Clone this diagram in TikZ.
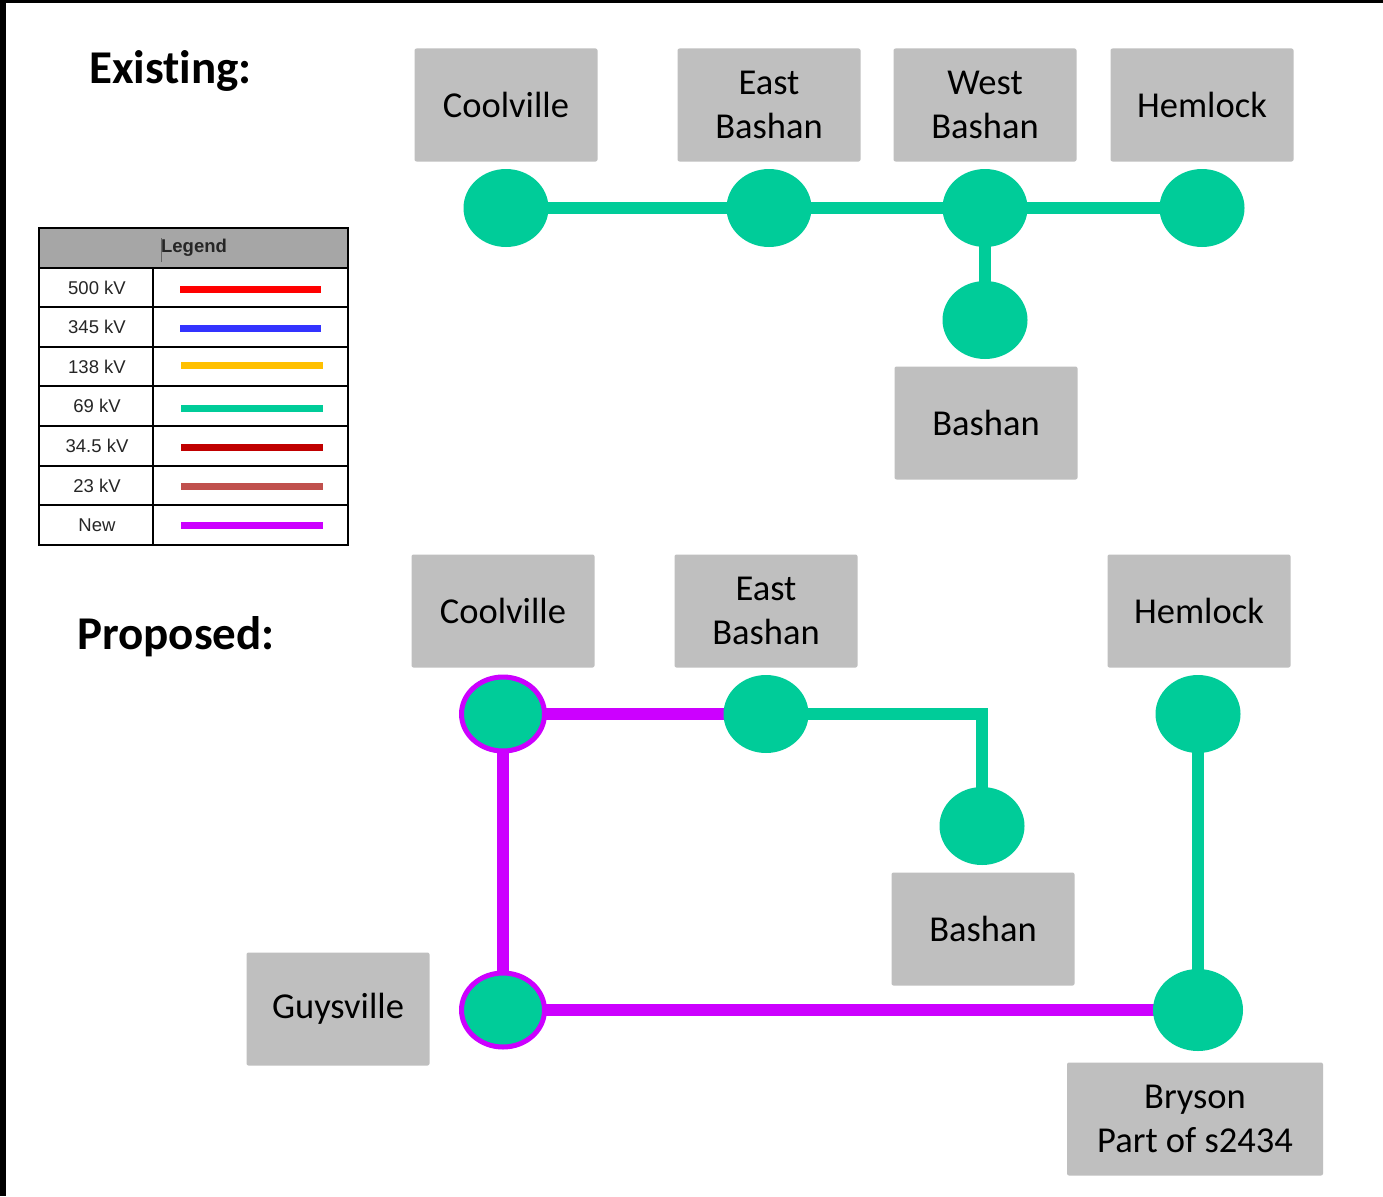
\documentclass[tikz,border=0pt]{standalone}
\usepackage{fontspec}
\setmainfont{Carlito}[Ligatures={NoCommon}]
\newfontfamily\legendfont{Liberation Sans}
\usetikzlibrary{shapes.geometric,backgrounds}

\definecolor{busgreen}{HTML}{00CC99}
\definecolor{newline}{HTML}{CC00FF}
\definecolor{boxgray}{HTML}{BFBFBF}
\definecolor{headgray}{HTML}{A6A6A6}
\definecolor{kvred}{HTML}{FF0000}
\definecolor{kvblue}{HTML}{3333FF}
\definecolor{kvyellow}{HTML}{FFC000}
\definecolor{kvdark}{HTML}{C00000}
\definecolor{kvbrick}{HTML}{C0504D}

\tikzset{
  station/.style={fill=boxgray, rounded corners=2pt, minimum width=183pt,
    minimum height=113pt, inner sep=0pt, align=center,
    font=\fontsize{36.5}{44}\selectfont},
  bus/.style={ellipse, fill=busgreen, minimum width=85pt, minimum height=78pt, inner sep=0pt},
  newbus/.style={ellipse, fill=busgreen, draw=newline, line width=5pt,
    minimum width=83pt, minimum height=74pt, inner sep=0pt},
  line69/.style={busgreen, line width=12pt},
  linenew/.style={newline, line width=12pt},
  heading/.style={font=\fontsize{47}{55}\selectfont\bfseries, inner sep=0pt},
  legtext/.style={font=\legendfont\fontsize{18.5}{22}\selectfont, inner sep=0pt, text=black!85},
  legsample/.style={line width=7pt}
}

\begin{document}
\begin{tikzpicture}[x=1pt, y=-1pt]
\useasboundingbox (0,0) rectangle (1383,1196);
\begin{pgfonlayer}{background}
  \fill[white] (0,0) rectangle (1383,1196);
\end{pgfonlayer}

% frame edges
\fill[black] (0,0) rectangle (1383,3);
\fill[black] (0,0) rectangle (6,1196);

% headings
\node[heading, anchor=west] (hexist) at (89,71) {Existing:};
\node[heading, anchor=west] (hprop) at (77,637) {Proposed:};

% ---------------- existing system ----------------
\node[station] (ecool) at (506,105) {Coolville};
\node[station] (eeast) at (769,105) {East\\Bashan};
\node[station] (ewest) at (985,105) {West\\Bashan};
\node[station] (ehem)  at (1202,105) {Hemlock};
\node[station] (ebash) at (986,423) {Bashan};

\node[bus] (becool) at (506,208) {};
\node[bus] (beeast) at (769,208) {};
\node[bus] (bewest) at (985,208) {};
\node[bus] (behem)  at (1202,208) {};
\node[bus] (bebash) at (985,320) {};

\begin{pgfonlayer}{background}
  \draw[line69] (becool.center) -- (behem.center);
  \draw[line69] (bewest.center) -- (bebash.center);
\end{pgfonlayer}

% ---------------- legend ----------------
\fill[headgray] (39,228) rectangle (348,268);
\draw[line width=2pt] (39,228) rectangle (348,545);
\foreach \yy in {268,307,347,386,426,466,505} {
  \draw[line width=2pt] (39,\yy) -- (348,\yy);
}
\draw[line width=2pt] (153,268) -- (153,545);
\draw[black!60, line width=0.8pt] (161,238) -- (161,262);
\node[legtext, font=\legendfont\bfseries\fontsize{18.5}{22}\selectfont] (lhead) at (194,248) {Legend};

\node[legtext] (l500) at (97,288) {500 kV};
\node[legtext] (l345) at (97,327) {345 kV};
\node[legtext] (l138) at (97,367) {138 kV};
\node[legtext] (l69)  at (97,406) {69 kV};
\node[legtext] (l345b) at (97,446) {34.5 kV};
\node[legtext] (l23)  at (97,486) {23 kV};
\node[legtext] (lnew) at (97,525) {New};

\draw[legsample, kvred]    (180,289) -- (321,289);
\draw[legsample, kvblue]   (180,328) -- (321,328);
\draw[legsample, kvyellow] (181,365) -- (323,365);
\draw[legsample, busgreen] (181,408) -- (323,408);
\draw[legsample, kvdark]   (181,447) -- (323,447);
\draw[legsample, kvbrick]  (181,486) -- (323,486);
\draw[legsample, newline]  (181,525) -- (323,525);

% ---------------- proposed system ----------------
\node[station] (pcool) at (503,611) {Coolville};
\node[station] (peast) at (766,611) {East\\Bashan};
\node[station] (phem)  at (1199,611) {Hemlock};
\node[station] (pbash) at (983,929) {Bashan};
\node[station] (pguy)  at (338,1009) {Guysville};
\node[station, minimum width=256pt] (pbry) at (1195,1119) {Bryson\\Part of s2434};

\node[newbus] (bpcool) at (503,714) {};
\node[bus]    (bpeast) at (766,714) {};
\node[bus]    (bphem)  at (1198,714) {};
\node[bus]    (bpbash) at (982,826) {};
\node[newbus] (bpguy)  at (503,1010) {};
\node[bus, minimum width=90pt, minimum height=82pt] (bpbry) at (1198,1010) {};

\begin{pgfonlayer}{background}
  \draw[linenew] (bpcool.center) -- (bpeast.center);
  \draw[linenew] (bpcool.center) -- (bpguy.center);
  \draw[linenew] (bpguy.center) -- (bpbry.center);
  \draw[line69] (bpeast.center) -| (bpbash.center);
  \draw[line69] (bphem.center) -- (bpbry.center);
\end{pgfonlayer}
\end{tikzpicture}
\end{document}
